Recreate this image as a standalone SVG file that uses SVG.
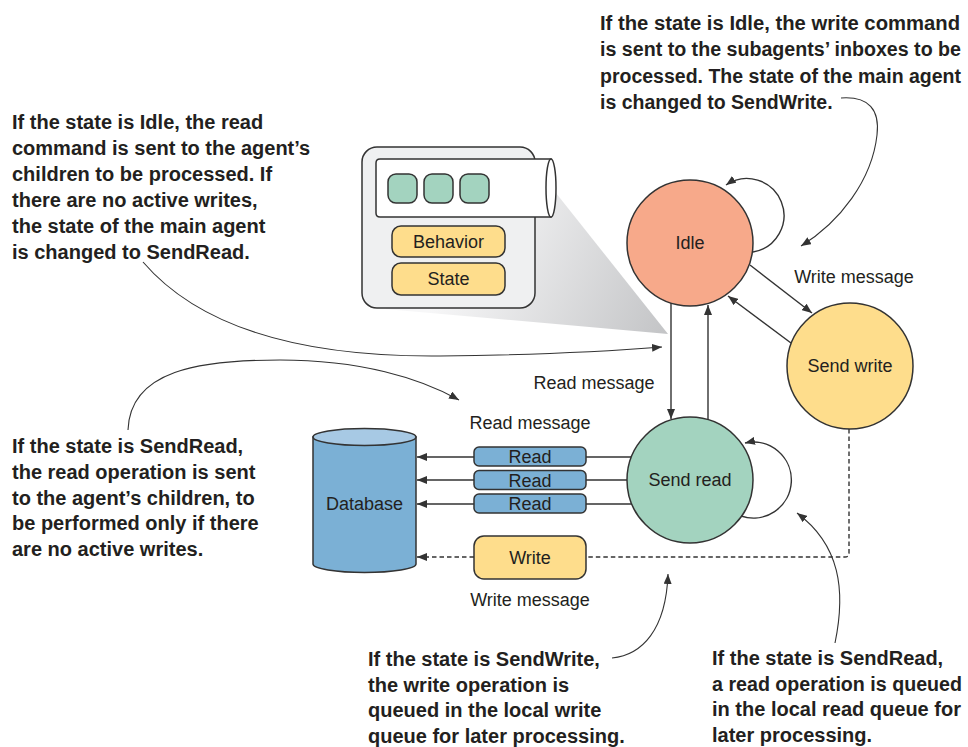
<svg xmlns="http://www.w3.org/2000/svg" width="968" height="747" viewBox="0 0 968 747">
  <style>
    .note { font-family: "Liberation Sans", Arial, sans-serif; font-weight: bold; font-size: 20px; fill: #231f20; }
    .note.tight { font-size: 19.5px; }
    .lbl { font-family: "Liberation Sans", Arial, sans-serif; font-size: 18px; fill: #231f20; }
    .mid { text-anchor: middle; }
    .node { stroke: #333333; stroke-width: 1.5; }
    .conn { fill: none; stroke: #333333; stroke-width: 1.4; }
    .thin { fill: none; stroke: #333333; stroke-width: 1.1; }
    .dash { fill: none; stroke: #333333; stroke-width: 1.4; stroke-dasharray: 4.5 3; }
  </style>
  <defs>
    <marker id="arrow" markerUnits="userSpaceOnUse" markerWidth="11" markerHeight="8" refX="10" refY="4" orient="auto">
      <path d="M0,0 L10,4 L0,8 z" fill="#333333"/>
    </marker>
    <linearGradient id="shade" gradientUnits="userSpaceOnUse" x1="460" y1="240" x2="668" y2="334">
      <stop offset="0" stop-color="#f7f7f8"/>
      <stop offset="1" stop-color="#c3c4c6"/>
    </linearGradient>
  </defs>

  <rect width="968" height="747" fill="#ffffff"/>

  <!-- zoom-out wedge behind the agent detail -->
  <polygon points="552,188 668,334 385,309" fill="url(#shade)"/>

  <!-- agent detail: mailbox, behavior and state -->
  <g id="agent-detail">
    <rect x="362" y="147" width="173" height="161" rx="15" fill="#eff0f1" class="node"/>
    <path d="M380 159 H551 V217 H380 Q376 217 376 213 V163 Q376 159 380 159 Z" fill="#ffffff" class="node"/>
    <ellipse cx="551" cy="188" rx="5" ry="29" fill="#ffffff" class="node"/>
    <rect x="388" y="174" width="29" height="29" rx="8" fill="#a3d3bf" class="node"/>
    <rect x="424" y="174" width="29" height="29" rx="8" fill="#a3d3bf" class="node"/>
    <rect x="460" y="174" width="29" height="29" rx="8" fill="#a3d3bf" class="node"/>
    <rect x="392" y="226" width="113" height="31" rx="9" fill="#fedd8c" class="node"/>
    <text x="448.5" y="248" class="lbl mid">Behavior</text>
    <rect x="392" y="263" width="113" height="32" rx="9" fill="#fedd8c" class="node"/>
    <text x="448.5" y="285" class="lbl mid">State</text>
  </g>

  <!-- state nodes -->
  <g id="idle">
    <circle cx="690" cy="243" r="63" fill="#f7a98a" class="node"/>
    <text x="690" y="249" class="lbl mid">Idle</text>
  </g>
  <g id="send-write">
    <circle cx="850" cy="366" r="63" fill="#fedd8c" class="node"/>
    <text x="850" y="372" class="lbl mid">Send write</text>
  </g>
  <g id="send-read">
    <circle cx="690" cy="480" r="63" fill="#a3d3bf" class="node"/>
    <text x="690" y="486" class="lbl mid">Send read</text>
  </g>

  <!-- database -->
  <g id="database">
    <path d="M313 437 V564 A51.5 8.5 0 0 0 416 564 V437 Z" fill="#7bb0d5" class="node"/>
    <ellipse cx="364.5" cy="437" rx="51.5" ry="8.5" fill="#a7c9e4" class="node"/>
    <text x="364.5" y="510" class="lbl mid">Database</text>
  </g>

  <!-- messages -->
  <g id="read-1">
    <rect x="474" y="447" width="112" height="19" rx="5" fill="#7bb0d5" class="node"/>
    <text x="530" y="463" class="lbl mid">Read</text>
  </g>
  <g id="read-2">
    <rect x="474" y="470.5" width="112" height="19" rx="5" fill="#7bb0d5" class="node"/>
    <text x="530" y="486.5" class="lbl mid">Read</text>
  </g>
  <g id="read-3">
    <rect x="474" y="494" width="112" height="19" rx="5" fill="#7bb0d5" class="node"/>
    <text x="530" y="510" class="lbl mid">Read</text>
  </g>
  <g id="write">
    <rect x="474" y="536" width="112" height="43" rx="10" fill="#fedd8c" class="node"/>
    <text x="530" y="564" class="lbl mid">Write</text>
  </g>

  <!-- connectors -->
  <g id="connectors">
    <!-- self loops -->
    <path d="M753 252 A37 37 0 1 0 726 185" class="conn" marker-end="url(#arrow)"/>
    <path d="M741 516 A38 38 0 1 0 745 443" class="conn" marker-end="url(#arrow)"/>
    <!-- idle <-> send read -->
    <path d="M671 303 V419" class="conn" marker-end="url(#arrow)"/>
    <path d="M708 420 V305" class="conn" marker-end="url(#arrow)"/>
    <!-- idle <-> send write -->
    <path d="M750 265 L812 313" class="conn" marker-end="url(#arrow)"/>
    <path d="M791 343 L728 296" class="conn" marker-end="url(#arrow)"/>
    <!-- send read to database through the read messages -->
    <path d="M631 457 H586 M474 457 H417" class="conn" marker-end="url(#arrow)"/>
    <path d="M627 480 H586 M474 480 H417" class="conn" marker-end="url(#arrow)"/>
    <path d="M632 504 H586 M474 504 H417" class="conn" marker-end="url(#arrow)"/>
    <!-- send write to database through the write message -->
    <path d="M849 429 V553 Q849 557 845 557 H586" class="dash"/>
    <path d="M474 557 H417" class="dash" marker-end="url(#arrow)"/>
    <!-- annotation pointers -->
    <path d="M841 98 C869 96 880 110 877 135 C872 180 840 222 801 246" class="thin" marker-end="url(#arrow)"/>
    <path d="M143 262 C210 340 330 357 440 356 C530 355 600 352 662 347" class="thin" marker-end="url(#arrow)"/>
    <path d="M128 430 C130 370 200 360 280 360 C360 360 420 378 459 400" class="thin" marker-end="url(#arrow)"/>
    <path d="M612 658 C642 655 666 630 668 574" class="thin" marker-end="url(#arrow)"/>
    <path d="M835 643 C846 590 840 545 797 513" class="thin" marker-end="url(#arrow)"/>
  </g>

  <!-- connector labels -->
  <text x="854" y="283" class="lbl mid">Write message</text>
  <text x="594" y="389" class="lbl mid">Read message</text>
  <text x="530" y="429" class="lbl mid">Read message</text>
  <text x="530" y="606" class="lbl mid">Write message</text>

  <!-- annotations -->
  <text class="note tight">
    <tspan x="600" y="30" textLength="360" lengthAdjust="spacingAndGlyphs">If the state is Idle, the write command</tspan>
    <tspan x="600" y="56.3" textLength="361" lengthAdjust="spacingAndGlyphs">is sent to the subagents’ inboxes to be</tspan>
    <tspan x="600" y="82.6" textLength="361" lengthAdjust="spacingAndGlyphs">processed. The state of the main agent</tspan>
    <tspan x="600" y="109">is changed to SendWrite.</tspan>
  </text>
  <text class="note">
    <tspan x="12" y="129">If the state is Idle, the read</tspan>
    <tspan x="12" y="155">command is sent to the agent’s</tspan>
    <tspan x="12" y="181">children to be processed. If</tspan>
    <tspan x="12" y="207">there are no active writes,</tspan>
    <tspan x="12" y="233">the state of the main agent</tspan>
    <tspan x="12" y="259">is changed to SendRead.</tspan>
  </text>
  <text class="note">
    <tspan x="12" y="453">If the state is SendRead,</tspan>
    <tspan x="12" y="478.8">the read operation is sent</tspan>
    <tspan x="12" y="504.6">to the agent’s children, to</tspan>
    <tspan x="12" y="530.4">be performed only if there</tspan>
    <tspan x="12" y="556.2">are no active writes.</tspan>
  </text>
  <text class="note">
    <tspan x="368" y="666">If the state is SendWrite,</tspan>
    <tspan x="368" y="691.5">the write operation is</tspan>
    <tspan x="368" y="717">queued in the local write</tspan>
    <tspan x="368" y="742.5">queue for later processing.</tspan>
  </text>
  <text class="note">
    <tspan x="712" y="665">If the state is SendRead,</tspan>
    <tspan x="712" y="690.5" textLength="250" lengthAdjust="spacingAndGlyphs">a read operation is queued</tspan>
    <tspan x="712" y="716">in the local read queue for</tspan>
    <tspan x="712" y="741.5">later processing.</tspan>
  </text>
</svg>
